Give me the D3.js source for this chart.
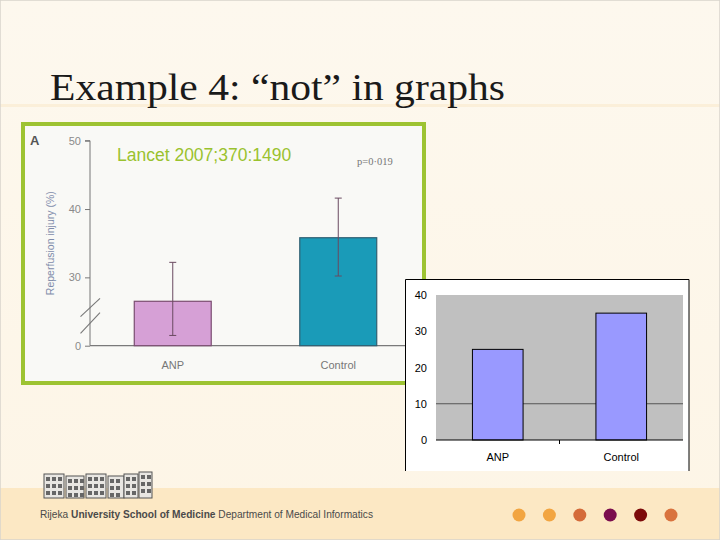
<!DOCTYPE html>
<html><head><meta charset="utf-8">
<script src="https://cdn.jsdelivr.net/npm/d3@7"></script>
<style>html,body{margin:0;padding:0;background:#fdf8ee;}svg{display:block;}</style>
</head><body>
<script>
// ---- data ----
const categories = ["ANP", "Control"];
const paperValues = [26.5, 35.8];          // reperfusion injury (%)
const paperErrLow = [21.5, 30.2];
const paperErrHigh = [32.2, 41.6];
const paperTicks = [20, 30, 40, 50];       // 20 is shown as "0" (axis break)
const excelValues = [25, 35];
const excelTicks = [0, 10, 20, 30, 40];
const excelGrid = [10];
const dotColors = ["#f2a541", "#f2a541", "#d46b3a", "#7b0d4e", "#7c0a0a", "#d9733e"];

const W = 720, H = 540;
const svg = d3.select("body").append("svg").attr("width", W).attr("height", H);

// background
const defs = svg.append("defs");
const g1 = defs.append("linearGradient").attr("id","bg").attr("x1",0).attr("x2",0).attr("y1",0).attr("y2",1);
g1.append("stop").attr("offset","0%").attr("stop-color","#fdf8ee");
g1.append("stop").attr("offset","100%").attr("stop-color","#fdf5e6");
svg.append("rect").attr("width",W).attr("height",H).attr("fill","url(#bg)");
svg.append("rect").attr("y",488).attr("width",W).attr("height",52).attr("fill","#fce8c4");
svg.append("rect").attr("y",104).attr("width",W).attr("height",3).attr("fill","#fbefd9");
svg.append("rect").attr("width",W).attr("height",H).attr("fill","none").attr("stroke","#d8d4cc").attr("stroke-width",1.5);

// title
svg.append("text").attr("x",50).attr("y",100)
  .attr("font-family","'Liberation Serif','DejaVu Serif',serif").attr("font-size",37)
  .attr("fill","#1a1a1a").attr("textLength",455).attr("lengthAdjust","spacingAndGlyphs")
  .text("Example 4: \u201cnot\u201d in graphs");

// ---- left chart (scanned paper figure) ----
const L = svg.append("g");
L.append("rect").attr("x",23).attr("y",124).attr("width",401).attr("height",259)
  .attr("fill","#f9f9f6").attr("stroke","#9dc332").attr("stroke-width",4);

const yL = d3.scaleLinear().domain([20, 50]).range([345.7, 140.7]);
const xL = d3.scaleBand().domain(categories).range([90, 421]).padding(0);
const bwL = xL.bandwidth() * 0.465;
const colorsL = ["#d6a0d6", "#1a9bb8"];
const strokeL = ["#7a4d70", "#2f5f72"];

// x-axis line
L.append("line").attr("x1",90).attr("x2",405).attr("y1",yL(20)).attr("y2",yL(20))
  .attr("stroke","#7a7a7a").attr("stroke-width",1.2);
// y axis
const axL = d3.axisLeft(yL).tickValues(paperTicks).tickSize(5).tickPadding(4)
  .tickFormat(d => d === 20 ? "0" : d);
const gax = L.append("g").attr("transform","translate(90,0)").call(axL);
gax.select(".domain").attr("stroke","#777").attr("d", `M-5,${yL(50)}H0V${yL(20)}`);
gax.selectAll(".tick line").attr("stroke","#777");
gax.selectAll(".tick text").attr("fill","#8a8a8a").attr("font-size",11)
  .attr("font-family","'Liberation Sans',Arial,sans-serif");
// axis break marks
[[316.7,298.3],[333.3,312.7]].forEach(([a,b]) => {
  L.append("line").attr("x1",80.5).attr("y1",a).attr("x2",100).attr("y2",b)
    .attr("stroke","#777").attr("stroke-width",1.1);
});

// bars
L.selectAll("rect.bar").data(categories).enter().append("rect")
  .attr("x", d => xL(d) + xL.bandwidth()/2 - bwL/2)
  .attr("y", (d,i) => yL(paperValues[i]))
  .attr("width", bwL)
  .attr("height", (d,i) => yL(20) - yL(paperValues[i]))
  .attr("fill", (d,i) => colorsL[i]).attr("stroke", (d,i) => strokeL[i]).attr("stroke-width",1.2);
// error bars
categories.forEach((c,i) => {
  const cx = xL(c) + xL.bandwidth()/2;
  const eb = L.append("g").attr("stroke","#6a4a60").attr("stroke-width",1);
  eb.append("line").attr("x1",cx).attr("x2",cx).attr("y1",yL(paperErrLow[i])).attr("y2",yL(paperErrHigh[i]));
  [paperErrLow[i], paperErrHigh[i]].forEach(v => eb.append("line")
    .attr("x1",cx-3.5).attr("x2",cx+3.5).attr("y1",yL(v)).attr("y2",yL(v)));
  L.append("text").attr("x",cx).attr("y",369).attr("text-anchor","middle")
    .attr("font-family","'Liberation Sans',Arial,sans-serif").attr("font-size",11).attr("fill","#777").text(c);
});
L.append("text").attr("transform",`translate(54,${yL(35)}) rotate(-90)`).attr("text-anchor","middle")
  .attr("font-family","'Liberation Sans',Arial,sans-serif").attr("font-size",10.5).attr("fill","#7f8cab")
  .text("Reperfusion injury (%)");
L.append("text").attr("x",30).attr("y",145).attr("font-family","'Liberation Sans',Arial,sans-serif")
  .attr("font-size",13).attr("font-weight","bold").attr("fill","#555").text("A");
L.append("text").attr("x",117).attr("y",161).attr("font-family","'Liberation Sans',Arial,sans-serif")
  .attr("font-size",17.5).attr("fill","#9ac22e").text("Lancet 2007;370:1490");
L.append("text").attr("x",357).attr("y",165).attr("font-family","'Liberation Serif',serif")
  .attr("font-size",10.5).attr("fill","#777").text("p=0\u00b7019");

// ---- right chart (Excel-style redraw) ----
const R = svg.append("g");
R.append("rect").attr("x",405).attr("y",279).attr("width",284).attr("height",192).attr("fill","#ffffff");
R.append("path").attr("d","M405.5,471V279.5H689V471").attr("fill","none").attr("stroke","#000").attr("stroke-width",1);
const yR = d3.scaleLinear().domain([0, 40]).range([440, 295]);
const xR = d3.scaleBand().domain(categories).range([436, 683]);
R.append("rect").attr("x",436).attr("y",yR(40)).attr("width",247).attr("height",yR(0)-yR(40)).attr("fill","#c0c0c0");
R.selectAll("line.grid").data(excelGrid).enter().append("line")
  .attr("x1",436).attr("x2",683).attr("y1",d=>yR(d)).attr("y2",d=>yR(d)).attr("stroke","#555").attr("stroke-width",1);
const bwR = xR.bandwidth()*0.41;
R.selectAll("rect.bar").data(categories).enter().append("rect")
  .attr("x", d => xR(d) + xR.bandwidth()/2 - bwR/2)
  .attr("y", (d,i) => yR(excelValues[i]))
  .attr("width", bwR).attr("height", (d,i) => yR(0) - yR(excelValues[i]))
  .attr("fill","#9999ff").attr("stroke","#000").attr("stroke-width",1);
R.append("line").attr("x1",436).attr("x2",683).attr("y1",yR(0)).attr("y2",yR(0)).attr("stroke","#000");
R.append("line").attr("x1",559.5).attr("x2",559.5).attr("y1",yR(0)).attr("y2",yR(0)+4).attr("stroke","#000");
R.selectAll("text.yt").data(excelTicks).enter().append("text")
  .attr("x",427).attr("y",d=>yR(d)+4).attr("text-anchor","end")
  .attr("font-family","'Liberation Sans',Arial,sans-serif").attr("font-size",11).attr("fill","#000").text(d=>d);
R.selectAll("text.xt").data(categories).enter().append("text")
  .attr("x",d=>xR(d)+xR.bandwidth()/2).attr("y",461).attr("text-anchor","middle")
  .attr("font-family","'Liberation Sans',Arial,sans-serif").attr("font-size",11).attr("fill","#000").text(d=>d);

// ---- footer ----
const F = svg.append("g");
const blocks = [[44,474,20,24],[66,476,18,22],[86,474,20,24],[108,476,16,22],[124,474,14,24],[139,472,13,26]];
blocks.forEach(([x,y,w,h]) => {
  F.append("rect").attr("x",x).attr("y",y).attr("width",w).attr("height",h).attr("fill","#e8e6e2").attr("stroke","#555").attr("stroke-width",1);
  for (let r=0;r<3;r++) for (let c=0;c<Math.floor(w/6);c++)
    F.append("rect").attr("x",x+2+c*6).attr("y",y+3+r*7).attr("width",4).attr("height",4).attr("fill","#666");
});
const ft = F.append("text").attr("x",40).attr("y",518).attr("font-family","'Liberation Sans',Arial,sans-serif")
  .attr("font-size",10).attr("fill","#4a4a4a").attr("textLength",333).attr("lengthAdjust","spacingAndGlyphs");
ft.append("tspan").text("Rijeka ");
ft.append("tspan").attr("font-weight","bold").text("University School of Medicine");
ft.append("tspan").text(" Department of Medical Informatics");
F.selectAll("circle").data(dotColors).enter().append("circle")
  .attr("cx",(d,i)=>519+i*30.4).attr("cy",515).attr("r",6.5).attr("fill",d=>d);
</script>
</body></html>
